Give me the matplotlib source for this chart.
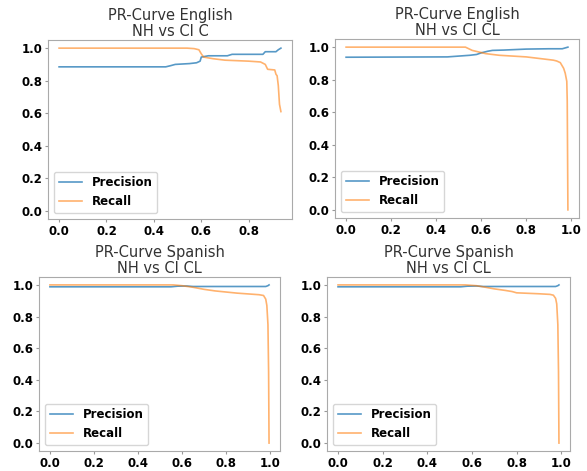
import matplotlib
matplotlib.use('Agg')
import matplotlib.pyplot as plt

# English NH vs CI C
en_c_prec_x = [0.0, 0.45, 0.47, 0.49, 0.55, 0.58, 0.595, 0.6, 0.63, 0.71, 0.73, 0.86, 0.87, 0.915, 0.925, 0.936]
en_c_prec_y = [0.885, 0.885, 0.892, 0.90, 0.905, 0.91, 0.92, 0.945, 0.953, 0.953, 0.962, 0.962, 0.978, 0.978, 0.99, 1.0]
en_c_rec_x = [0.0, 0.54, 0.57, 0.59, 0.60, 0.61, 0.65, 0.70, 0.80, 0.85, 0.87, 0.88, 0.91, 0.915, 0.92, 0.925, 0.93, 0.936]
en_c_rec_y = [1.0, 1.0, 0.997, 0.99, 0.965, 0.945, 0.935, 0.926, 0.92, 0.915, 0.90, 0.87, 0.866, 0.84, 0.83, 0.77, 0.655, 0.61]

# English NH vs CI CL
en_cl_prec_x = [0.0, 0.45, 0.50, 0.55, 0.58, 0.60, 0.63, 0.65, 0.70, 0.80, 0.90, 0.96, 0.985]
en_cl_prec_y = [0.938, 0.94, 0.945, 0.95, 0.955, 0.965, 0.975, 0.98, 0.982, 0.988, 0.99, 0.99, 1.0]
en_cl_rec_x = [0.0, 0.53, 0.56, 0.62, 0.68, 0.80, 0.92, 0.935, 0.951, 0.966, 0.973, 0.98, 0.982, 0.985]
en_cl_rec_y = [1.0, 1.0, 0.98, 0.96, 0.95, 0.94, 0.92, 0.915, 0.905, 0.87, 0.84, 0.79, 0.67, 0.0]

# Spanish NH vs CI CL (left)
es_l_prec_x = [0.0, 0.55, 0.58, 0.62, 0.65, 0.98, 0.99, 0.995]
es_l_prec_y = [0.988, 0.988, 0.992, 0.993, 0.99, 0.99, 0.995, 1.0]
es_l_rec_x = [0.0, 0.56, 0.60, 0.65, 0.70, 0.75, 0.80, 0.85, 0.90, 0.95, 0.97, 0.98, 0.985, 0.99, 0.993, 0.995]
es_l_rec_y = [1.0, 1.0, 0.995, 0.985, 0.972, 0.962, 0.955, 0.948, 0.943, 0.938, 0.933, 0.91, 0.87, 0.75, 0.45, 0.0]

# Spanish NH vs CI CL (right)
es_r_prec_x = [0.0, 0.55, 0.58, 0.62, 0.65, 0.975, 0.985, 0.99]
es_r_prec_y = [0.988, 0.988, 0.992, 0.993, 0.99, 0.99, 0.995, 1.0]
es_r_rec_x = [0.0, 0.57, 0.62, 0.65, 0.70, 0.75, 0.78, 0.80, 0.85, 0.90, 0.95, 0.965, 0.975, 0.98, 0.985, 0.988, 0.99]
es_r_rec_y = [1.0, 1.0, 0.995, 0.988, 0.975, 0.965, 0.958, 0.95, 0.947, 0.944, 0.94, 0.935, 0.915, 0.88, 0.75, 0.45, 0.0]

titles = ['PR-Curve English\nNH vs CI C', 'PR-Curve English\nNH vs CI CL',
          'PR-Curve Spanish\nNH vs CI CL', 'PR-Curve Spanish\nNH vs CI CL']
series = [(en_c_prec_x, en_c_prec_y, en_c_rec_x, en_c_rec_y),
          (en_cl_prec_x, en_cl_prec_y, en_cl_rec_x, en_cl_rec_y),
          (es_l_prec_x, es_l_prec_y, es_l_rec_x, es_l_rec_y),
          (es_r_prec_x, es_r_prec_y, es_r_rec_x, es_r_rec_y)]

W, H = 587, 471
# axes boxes in pixels: left, top, right, bottom
boxes = [(48, 40, 292, 219), (335, 39, 579, 218), (39, 277, 280, 451), (327, 277, 570, 451)]

fig = plt.figure(figsize=(W / 100, H / 100), dpi=100)
for (l, t, r, b), title, (px, py, rx, ry) in zip(boxes, titles, series):
    ax = fig.add_axes([l / W, (H - b) / H, (r - l) / W, (b - t) / H])
    ax.plot(px, py, color='#1f77b4', lw=1.2, alpha=0.75, label='Precision')
    ax.plot(rx, ry, color='#ff7f0e', lw=1.2, alpha=0.6, label='Recall')
    ax.set_title(title, fontsize=10.5, color='#333333', pad=3, linespacing=1.05)
    ax.set_yticks([0.0, 0.2, 0.4, 0.6, 0.8, 1.0])
    ax.set_xticks([0.0, 0.2, 0.4, 0.6, 0.8, 1.0])
    ax.tick_params(labelsize=8.5, length=2.5, color='#999999', pad=1.5)
    for lab in ax.get_xticklabels() + ax.get_yticklabels():
        lab.set_fontweight('bold')
    for sp in ax.spines.values():
        sp.set_color('#aaaaaa')
    ax.set_ylim(-0.05, 1.05)
    leg = ax.legend(loc='lower left', prop={'weight': 'bold', 'size': 8.5})
    ax.set_xlim(-0.05 * max(px), 1.05 * max(px))

fig.savefig('out.png', dpi=100)
